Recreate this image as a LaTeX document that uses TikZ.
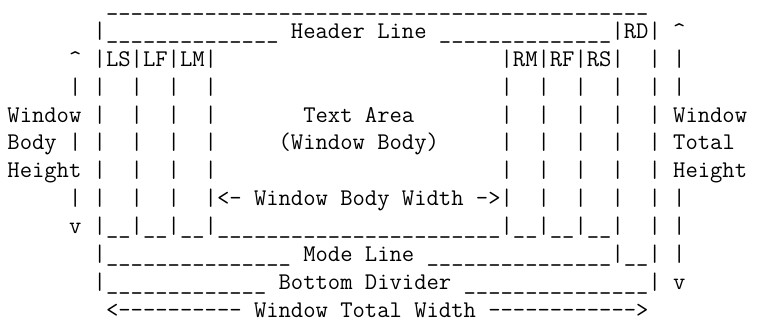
\documentclass[tikz,border=0pt]{standalone}
\usepackage{fontspec}
\ExplSyntaxOn
\cs_new:Npn \RepC #1#2 { \prg_replicate:nn {#1} {#2} }
\ExplSyntaxOff
\newcommand\Ci{\textasciicircum}
\begin{document}
\begin{tikzpicture}[x=1pt,y=1pt,
  asciirow/.style={anchor=base west, inner sep=0pt, outer sep=0pt,
    font=\ttfamily\fontsize{23.94}{27.86}\selectfont}]
\useasboundingbox (0,0) rectangle (763,-321);
\def\xo{-4.9}
\node[asciirow, text height=1pt, text depth=3pt] (r0) at (\xo,-10.6) {\RepC{9}{~}\RepC{44}{\_}};
\node[asciirow] (r1)  at (\xo,-38.46)  {\RepC{8}{~}|\RepC{14}{\_}~Header~Line~\RepC{14}{\_}|RD|~\Ci};
\node[asciirow] (r2)  at (\xo,-66.32)  {\RepC{6}{~}\Ci~|LS|LF|LM|\RepC{23}{~}|RM|RF|RS|~~|~|};
\node[asciirow] (r3)  at (\xo,-94.18)  {\RepC{6}{~}|~|~~|~~|~~|\RepC{23}{~}|~~|~~|~~|~~|~|};
\node[asciirow] (r4)  at (\xo,-122.04) {~Window~|~~|~~|~~|\RepC{7}{~}Text~Area\RepC{7}{~}|~~|~~|~~|~~|~Window};
\node[asciirow] (r5)  at (\xo,-149.9)  {~Body~|~|~~|~~|~~|\RepC{5}{~}(Window~Body)\RepC{5}{~}|~~|~~|~~|~~|~Total};
\node[asciirow] (r6)  at (\xo,-177.76) {~Height~|~~|~~|~~|\RepC{23}{~}|~~|~~|~~|~~|~Height};
\node[asciirow] (r7)  at (\xo,-205.62) {\RepC{6}{~}|~|~~|~~|~~|<-{}~Window~Body~Width~-{}>|~~|~~|~~|~~|~|};
\node[asciirow] (r8)  at (\xo,-233.48) {\RepC{6}{~}v~|\_\_|\_\_|\_\_|\RepC{23}{\_}|\_\_|\_\_|\_\_|~~|~|};
\node[asciirow] (r9)  at (\xo,-261.34) {\RepC{8}{~}|\RepC{15}{\_}~Mode~Line~\RepC{15}{\_}|\_\_|~|};
\node[asciirow] (r10) at (\xo,-289.2)  {\RepC{8}{~}|\RepC{13}{\_}~Bottom~Divider~\RepC{15}{\_}|~v};
\node[asciirow] (r11) at (\xo,-317.06) {\RepC{9}{~}<\RepC{10}{-{}}~Window~Total~Width~\RepC{12}{-{}}>};
\end{tikzpicture}
\end{document}
